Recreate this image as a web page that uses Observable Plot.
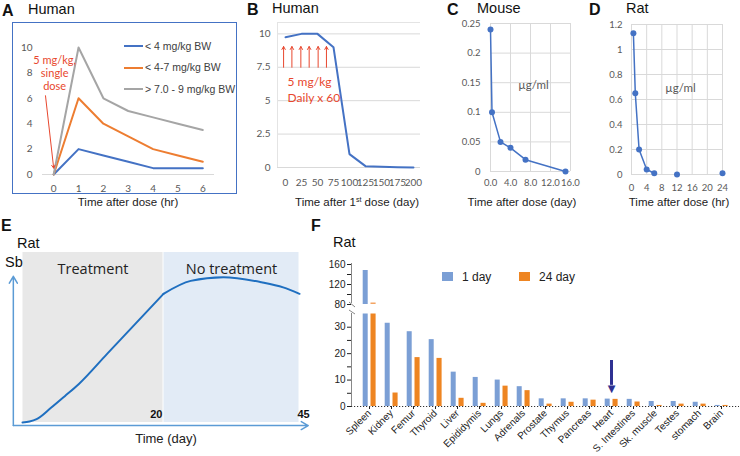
<!DOCTYPE html>
<html>
<head>
<meta charset="utf-8">
<script src="https://cdn.jsdelivr.net/npm/d3@7"></script>
<script src="https://cdn.jsdelivr.net/npm/@observablehq/plot@0.6"></script>
<style>
  html, body { margin: 0; padding: 0; background: #fff; }
  #root { position: relative; width: 740px; height: 456px; overflow: hidden; background: #fff; font-family: "Liberation Sans", Arial, sans-serif; }
  .abs { position: absolute; white-space: nowrap; line-height: 1; }
  .abs svg { display: block; overflow: visible; max-width: none; }
  .letter { font-weight: bold; font-size: 16px; color: #111; }
  .title { font-family: "Liberation Sans", Arial, sans-serif; font-size: 14.5px; color: #111; }
  .xt { font-size: 11.5px; color: #222; transform: translateX(-50%); }
  sup { font-size: 7px; vertical-align: 4px; line-height: 0; }
</style>
</head>
<body>
<div id="root"></div>
<script>
// ---------------- data ----------------
// Panel A – Human, single dose
const hoursA = [0, 1, 2, 3, 4, 5, 6];
const seriesA = ["< 4 mg/kg BW", "< 4-7 mg/kg BW", "> 7.0 - 9 mg/kg BW"];
const lowA = [0, 2, 1.5, 1, 0.5, 0.5, 0.5];
const midA = [0, 6, 4, 3, 2, 1.5, 1];
const highA = [0, 10, 6, 5, 4.5, 4, 3.5];
const ticksA = [0, 2, 4, 6, 8, 10];
const noteA = "5 mg/kg,\nsingle\ndose";

// Panel B – Human, daily dosing
const daysB = [0, 25, 50, 75, 100, 125, 150, 175, 200];
const levelB = [9.75, 10, 10, 9, 1, 0.1, 0.05, 0.02, 0];
const ticksB = [0, 2.5, 5, 7.5, 10];
const doseDaysB = [-3, 10, 24, 37, 51, 64];
const noteB = "5 mg/kg\nDaily x 60";

// Panel C – Mouse
const daysC = [0, 0.3, 2, 4, 7, 15];
const concC = [0.24, 0.1, 0.05, 0.04, 0.02, 0];
const yTicksC = [0, 0.05, 0.1, 0.15, 0.2, 0.25];
const xTicksC = [0, 4, 8, 12, 16];

// Panel D – Rat
const hoursD = [0.5, 1, 2, 4, 6, 12, 24];
const concD = [1.13, 0.65, 0.2, 0.04, 0.01, 0, 0.01];
const yTicksD = [0, 0.2, 0.4, 0.6, 0.8, 1, 1.2];
const xTicksD = [0, 4, 8, 12, 16, 20, 24];
const unitLabel = "µg/ml";

// Panel E – Rat, Sb schematic
const phasesE = ["Treatment", "No treatment"];
const phaseStartE = [0, 20];
const phaseEndE = [20, 45];
const timeE = [0, 1, 2, 4, 6, 8, 12, 16, 20, 25, 31, 38, 42, 45];
const sbE = [0, 0.6, 2, 8.5, 15.5, 22.7, 40.4, 58, 75.7, 83.3, 85.5, 82.5, 79.5, 75.7];

// Panel F – Rat tissue distribution
const organs = ["Spleen", "Kidney", "Femur", "Thyroid", "Liver", "Epididymis", "Lungs", "Adrenals", "Prostate", "Thymus", "Pancreas", "Heart", "S. Intestines", "Sk. muscle", "Testes", "stomach", "Brain"];
const seriesF = ["1 day", "24 day"];
const day1F = [148, 31.5, 28.3, 25.3, 13, 11, 10, 7.5, 2.9, 2.9, 2.9, 2.8, 2.7, 1.9, 1.9, 1.6, 0.4];
const day24F = [83, 5.1, 18.5, 18.2, 3.1, 1.2, 7.7, 6, 0.9, 1.6, 2.4, 2.7, 1.7, 0.4, 0.9, 0.9, 0.4];
const lowTicksF = [0, 5, 10, 15, 20, 25, 30];
const highTicksF = [80, 100, 120, 140, 160];
const markedOrgan = "Heart";

// ---------------- styles ----------------
const blue = "#4472c4", orange = "#ed7d31", grey = "#a5a5a5", red = "#e8472e", grid = "#d9d9d9";
const colorsA = [blue, orange, grey];
const blueF = "#7b9fd5", orangeF = "#ee8522", navy = "#2e3192";

const root = document.getElementById("root");
function place(node, left, top, width, height) {
  const d = document.createElement("div");
  d.className = "abs";
  d.style.left = left + "px";
  d.style.top = top + "px";
  if (width != null) d.style.width = width + "px";
  if (height != null) d.style.height = height + "px";
  if (node) d.appendChild(node);
  root.appendChild(d);
  return d;
}
function label(html, left, top, cls, css) {
  const d = place(null, left, top);
  d.innerHTML = html;
  if (cls) d.className += " " + cls;
  if (css) Object.assign(d.style, css);
  return d;
}
const st = (family, size, color) => ({background: "transparent", fontFamily: family, fontSize: size + "px", color, overflow: "visible"});

// ---------------- Panel A ----------------
const rowsA = hoursA.flatMap((h, i) => [lowA, midA, highA].map((arr, k) => ({h, v: arr[i], s: seriesA[k]})));
const plotA = Plot.plot({
  width: 223, height: 171, marginLeft: 29, marginRight: 22, marginTop: 25, marginBottom: 19,
  style: st("Lato, sans-serif", 10, "#595959"),
  x: {domain: [-0.45, 6.47], ticks: hoursA, tickSize: 0, tickPadding: 10, tickFormat: d => String(d), label: null},
  y: {domain: [0, 10], ticks: ticksA, tickSize: 0, tickPadding: 10, tickFormat: d => String(d), label: null},
  color: {domain: seriesA, range: colorsA},
  marks: [
    Plot.ruleY([0], {stroke: grid}),
    Plot.line(rowsA, {x: "h", y: "v", stroke: "s", strokeWidth: 2}),
    Plot.arrow([hoursA[0]], {x1: -0.33, y1: 6.2, x2: d => d, y2: 0.5, stroke: red, strokeWidth: 1, headLength: 5}),
    Plot.text([noteA], {x: hoursA[0], y: 8, dx: 1, text: d => d, fill: red, fontSize: 11, lineHeight: 1.18, fontFamily: "Lato, sans-serif"})
  ]
});
place(plotA, 13, 22, 223, 171);
const boxA = place(null, 12, 22, 225, 172);
Object.assign(boxA.style, {border: "1.5px solid " + blue, boxSizing: "border-box"});
seriesA.forEach((name, k) => {
  const y = 46 + k * 21.5;
  const sw = place(null, 124, y - 1, 19, 2);
  sw.style.background = colorsA[k];
  label(name, 145, y - 5.5, null, {fontSize: "10.5px", color: "#404040"});
});

// ---------------- Panel B ----------------
const rowsB = daysB.map((d, i) => ({d, v: levelB[i]}));
const plotB = Plot.plot({
  width: 180, height: 192, marginLeft: 37, marginRight: 0, marginTop: 2, marginBottom: 45,
  style: st("Lato, sans-serif", 10, "#595959"),
  x: {domain: [-12.5, 211], ticks: daysB, tickSize: 0, tickPadding: 11, tickFormat: d => String(d), label: null},
  y: {domain: [0, 10.85], ticks: ticksB, tickSize: 0, tickPadding: 7, tickFormat: d => String(d), label: null},
  marks: [
    Plot.ruleY(ticksB, {stroke: grid}),
    Plot.ruleY([10.85], {stroke: "#e4e4e4"}),
    Plot.ruleX([-12.5], {stroke: "#e4e4e4"}),
    Plot.line(rowsB, {x: "d", y: "v", stroke: blue, strokeWidth: 2}),
    Plot.arrow(doseDaysB, {x: d => d, y1: 7.5, y2: 9.05, stroke: red, strokeWidth: 1, headLength: 5}),
    Plot.text([noteB], {x: doseDaysB[0], y: 5.9, dx: 4, text: d => d, textAnchor: "start", fill: red, fontSize: 12, lineHeight: 1.33, fontFamily: "Lato, sans-serif"})
  ]
});
place(plotB, 240, 20, 180, 192);

// ---------------- Panel C ----------------
const rowsC = daysC.map((d, i) => ({d, c: concC[i]}));
const plotC = Plot.plot({
  width: 160, height: 195, marginLeft: 70, marginRight: 10, marginTop: 8, marginBottom: 39,
  style: st("Lato, sans-serif", 9.5, "#595959"),
  x: {domain: [0, 16], ticks: xTicksC, tickSize: 0, tickPadding: 8, tickFormat: d3.format(".1f"), label: null},
  y: {domain: [0, 0.25], ticks: yTicksC, tickSize: 0, tickPadding: 10, tickFormat: d => String(+d.toFixed(2)), label: null},
  marks: [
    Plot.ruleY(yTicksC, {stroke: grid}),
    Plot.ruleX(xTicksC, {stroke: grid}),
    Plot.line(rowsC, {x: "d", y: "c", stroke: blue, strokeWidth: 1.5}),
    Plot.dot(rowsC, {x: "d", y: "c", r: 3, fill: blue}),
    Plot.text([unitLabel], {frameAnchor: "top", dx: 3, dy: 57, text: d => d, fontSize: 11.5, fill: "#595959"})
  ]
});
place(plotC, 420, 15, 160, 195);

// ---------------- Panel D ----------------
const rowsD = hoursD.map((h, i) => ({h, c: concD[i]}));
const plotD = Plot.plot({
  width: 160, height: 195, marginLeft: 51, marginRight: 18, marginTop: 9, marginBottom: 36,
  style: st("Lato, sans-serif", 9.5, "#595959"),
  x: {domain: [0, 24], ticks: xTicksD, tickSize: 0, tickPadding: 10, tickFormat: d => String(d), label: null},
  y: {domain: [0, 1.2], ticks: yTicksD, tickSize: 0, tickPadding: 9, tickFormat: d => String(+d.toFixed(1)), label: null},
  marks: [
    Plot.ruleY(yTicksD, {stroke: grid}),
    Plot.ruleX(xTicksD, {stroke: grid}),
    Plot.line(rowsD.filter(d => d.h <= 6), {x: "h", y: "c", stroke: blue, strokeWidth: 1.5}),
    Plot.dot(rowsD, {x: "h", y: "c", r: 3, fill: blue}),
    Plot.text([unitLabel], {frameAnchor: "top", dx: 3.5, dy: 59, text: d => d, fontSize: 11.5, fill: "#595959"})
  ]
});
place(plotD, 580, 15, 160, 195);

// ---------------- Panel E ----------------
const phaseRows = phasesE.map((p, i) => ({p, start: phaseStartE[i], end: phaseEndE[i]}));
const curveE = timeE.map((t, i) => ({t, v: sbE[i]}));
const axisE = "#5b9bd5";
const plotE = Plot.plot({
  width: 310, height: 216, marginLeft: 22, marginRight: 11, marginTop: 12, marginBottom: 34,
  style: st("Open Sans, sans-serif", 12, "#222"),
  x: {type: "linear", domain: [0, 20, 45], range: [22, 163, 299], axis: null},
  y: {domain: [0, 100], range: [182, 12], axis: null},
  color: {domain: phasesE, range: ["#e8e8e8", "#e2ebf6"]},
  marks: [
    Plot.rect(phaseRows, {x1: "start", x2: "end", y1: 0, y2: 100, fill: "p", insetLeft: 0.5, insetRight: 0.5}),
    Plot.text(phaseRows, {x: d => (d.start + d.end) / 2, text: "p", frameAnchor: "top", dy: 11, fontSize: 14.5, fill: "#222"}),
    Plot.text(phaseRows.slice(0, 1), {x: "end", text: d => String(d.end), frameAnchor: "bottom", dy: -5, dx: -1, textAnchor: "end", fontWeight: "bold", fontSize: 11, fontFamily: "Liberation Sans, sans-serif", fill: "#111"}),
    Plot.text(phaseRows.slice(1), {x: "end", text: d => String(d.end), frameAnchor: "bottom", dy: -5, dx: -2, textAnchor: "start", fontWeight: "bold", fontSize: 11, fontFamily: "Liberation Sans, sans-serif", fill: "#111"}),
    Plot.arrow([0], {x1: -1.3, y1: -1.8, x2: -1.3, y2: 86, stroke: axisE, strokeWidth: 1.5, headLength: 8}),
    Plot.arrow([0], {x1: -1.3, y1: -1.8, x2: 46.6, y2: -1.8, stroke: axisE, strokeWidth: 1.5, headLength: 8}),
    // one smooth segment per phase, meeting at the end of treatment
    ...phaseRows.map(ph => Plot.line(curveE.filter(d => d.t >= ph.start && d.t <= ph.end),
      {x: "t", y: "v", curve: "monotone-x", stroke: "#1f6fc0", strokeWidth: 2}))
  ]
});
place(plotE, 0, 240, 310, 216);

// ---------------- Panel F ----------------
const rows1F = organs.map((o, i) => ({organ: o, s: seriesF[0], v: day1F[i]}));
const rows24F = organs.map((o, i) => ({organ: o, s: seriesF[1], v: day24F[i]}));
const fStyle = st("Liberation Sans, sans-serif", 10, "#222");
const bandX = {type: "band", domain: organs, padding: 0};
const plotFLow = Plot.plot({
  width: 430, height: 156, marginLeft: 41, marginRight: 1, marginTop: 13.5, marginBottom: 50,
  style: fStyle,
  x: {...bandX, tickSize: 3, tickPadding: 2, tickRotate: -45, label: null},
  y: {domain: [0, 35], clamp: true, ticks: lowTicksF, tickSize: 4, tickPadding: 2, tickFormat: d => d % 10 === 0 ? String(d) : "", label: null},
  marks: [
    Plot.barY(rows1F, {x: "organ", y: "v", fill: blueF, insetLeft: 4.7, insetRight: 12.3}),
    Plot.barY(rows24F, {x: "organ", y: "v", fill: orangeF, insetLeft: 12.5, insetRight: 4.4}),
    Plot.ruleY([0], {stroke: "#333", strokeDasharray: "1.2,1.8"}),
    Plot.ruleX([markedOrgan], {x: d => d, y1: 17.4, y2: 8, stroke: navy, strokeWidth: 3}),
    Plot.text([markedOrgan], {x: d => d, y: 6.8, text: () => "▼", fill: navy, fontSize: 10, fontFamily: "DejaVu Sans"})
  ]
});
place(plotFLow, 310, 300, 430, 156);
const plotFHigh = Plot.plot({
  width: 430, height: 50, marginLeft: 41, marginRight: 1, marginTop: 9, marginBottom: 1,
  style: fStyle,
  x: {...bandX, axis: null},
  y: {domain: [80, 160], ticks: highTicksF, tickSize: 4, tickPadding: 2, tickFormat: d => d % 40 === 0 ? String(d) : "", label: null},
  marks: [
    Plot.barY(rows1F.filter(d => d.v > 80), {x: "organ", y1: 80, y2: "v", fill: blueF, insetLeft: 4.7, insetRight: 12.3}),
    Plot.barY(rows24F.filter(d => d.v > 80), {x: "organ", y1: 80, y2: "v", fill: "#f3a463", insetLeft: 12.5, insetRight: 4.4})
  ]
});
place(plotFHigh, 310, 255, 430, 50);
// axis lines and break marks
d3.select(plotFLow).append("line").attr("x1", 41.5).attr("x2", 41.5).attr("y1", 13).attr("y2", 106).attr("stroke", "#888");
d3.select(plotFHigh).append("line").attr("x1", 41.5).attr("x2", 41.5).attr("y1", 8).attr("y2", 48).attr("stroke", "#888");
[[2, 7], [10, 14]].forEach(([a, b]) => d3.select(plotFLow).append("line")
  .attr("x1", 39).attr("y1", a).attr("x2", 45).attr("y2", b).attr("stroke", "#888"));
// legend F
seriesF.forEach((name, k) => {
  const x = 442 + k * 77;
  const sw = place(null, x, 272, 11, 9);
  sw.style.background = k === 0 ? blueF : orangeF;
  label(name, x + 20, 271, null, {fontSize: "12px", color: "#222"});
});

// ---------------- titles and axis titles ----------------
label("A", 2, 3, "letter");
label("B", 247, 1.5, "letter");
label("C", 447, 1.5, "letter");
label("D", 589, 1.5, "letter");
label("E", 1, 218, "letter");
label("F", 311, 218, "letter");
label("Human", 28, 1.5, "title");
label("Human", 272, 1, "title");
label("Mouse", 477, 1, "title");
label("Rat", 626, 1, "title");
label("Rat", 17, 236, "title");
label("Sb", 5, 255, "title");
label("Rat", 333, 235, "title");
label("Time after dose (hr)", 128, 196.5, "xt");
label("Time after 1<sup>st</sup> dose (day)", 357, 196.5, "xt");
label("Time after dose (day)", 522, 196.5, "xt");
label("Time after dose (hr)", 679, 196.5, "xt");
label("Time (day)", 166, 432, "xt", {fontSize: "13px"});
</script>
</body>
</html>
